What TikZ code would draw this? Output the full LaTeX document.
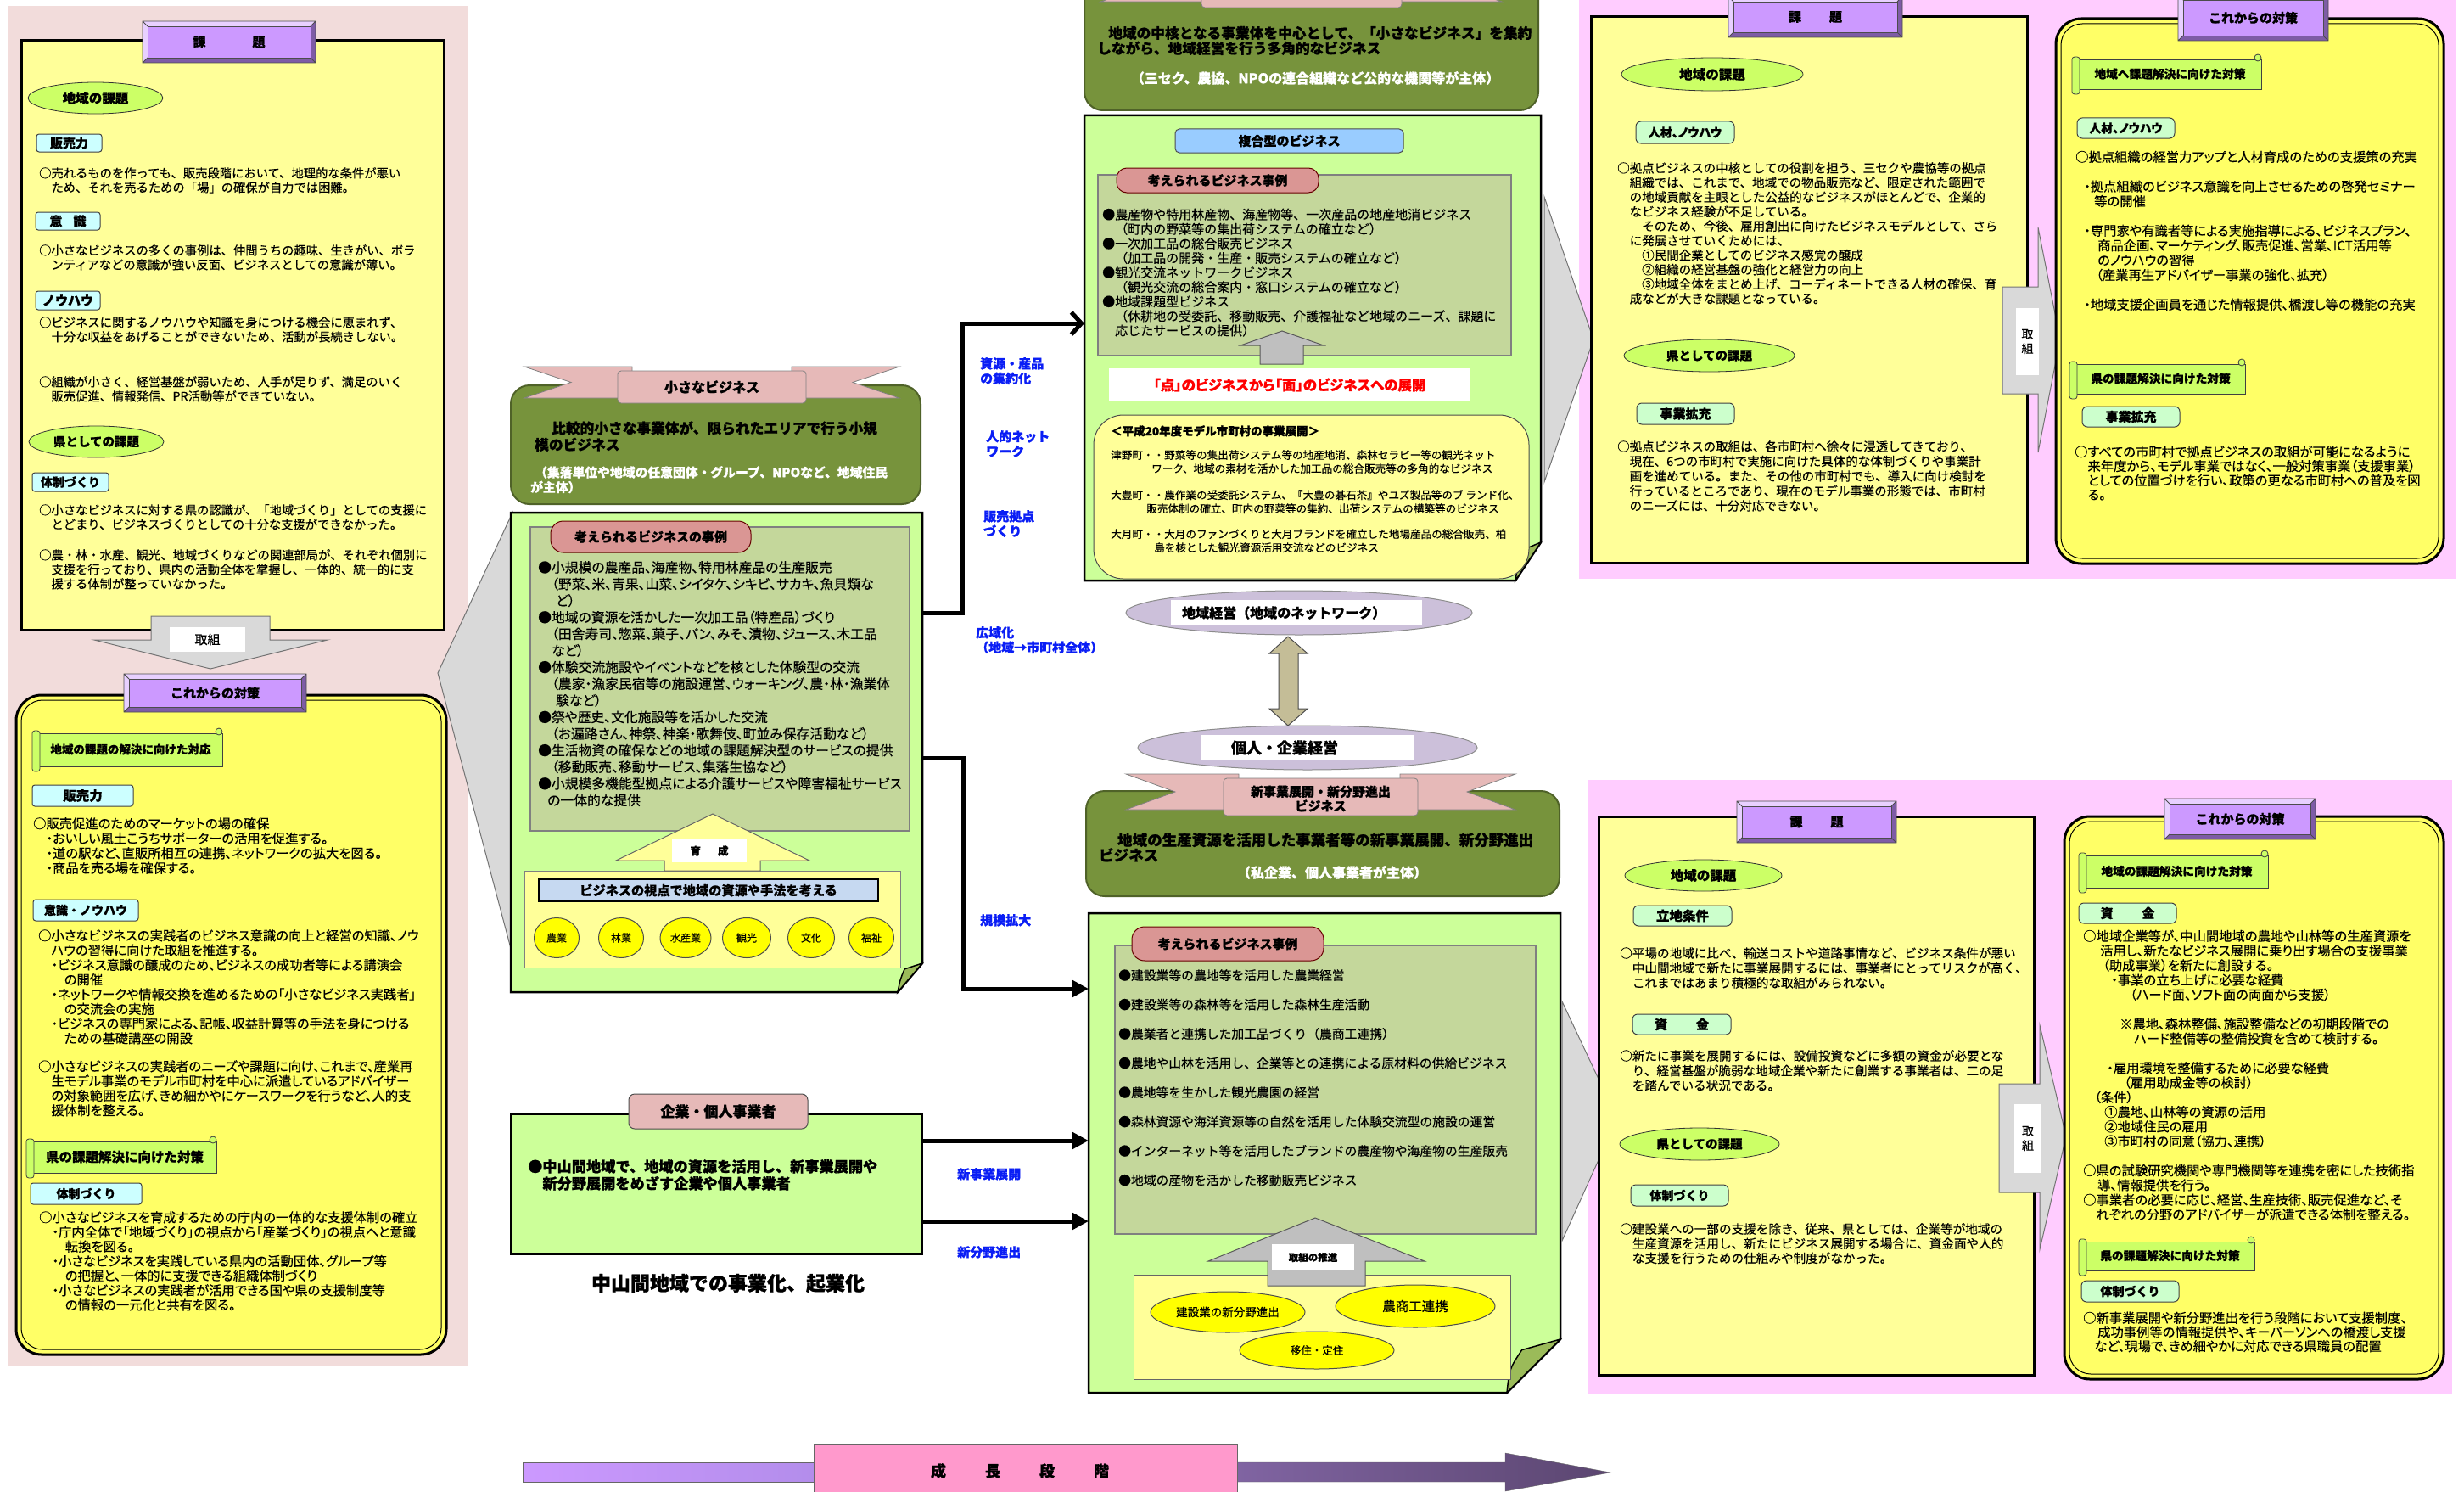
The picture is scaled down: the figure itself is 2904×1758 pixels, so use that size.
\documentclass[tikz,border=0pt]{standalone}
\usepackage{fontspec}
\setmainfont{Noto Sans CJK JP}[UprightFeatures={FakeBold=0.35},BoldFeatures={FakeBold=1.0}]
\newfontfamily\propfont{Noto Sans CJK JP}[RawFeature=+palt,UprightFeatures={FakeBold=0.35},BoldFeatures={FakeBold=1.0}]
\usetikzlibrary{shapes.geometric,arrows.meta}

\definecolor{leftbg}{HTML}{F2DCDB}
\definecolor{rightbg}{HTML}{FFCCFF}
\definecolor{paneltask}{HTML}{FFFF99}
\definecolor{panelplan}{HTML}{FFFF66}
\definecolor{tabmid}{HTML}{CC99FF}
\definecolor{tabhi}{HTML}{E8D0FF}
\definecolor{tabsh}{HTML}{7E5CA6}
\definecolor{ellgreen}{HTML}{CCFF66}
\definecolor{cyanlab}{HTML}{CCFFFF}
\definecolor{mintlab}{HTML}{CCFFCC}
\definecolor{olive}{HTML}{77933C}
\definecolor{olivedk}{HTML}{4F6228}
\definecolor{pagegreen}{HTML}{CCFF99}
\definecolor{folddk}{HTML}{9BBB59}
\definecolor{innergg}{HTML}{C4D79B}
\definecolor{tabred}{HTML}{DA9694}
\definecolor{ribpink}{HTML}{E6B9B8}
\definecolor{bluebar}{HTML}{C6D9F1}
\definecolor{fukugo}{HTML}{99CCFF}
\definecolor{lblue}{HTML}{0A1EF5}
\definecolor{purpell}{HTML}{CCC0DA}
\definecolor{tanarrow}{HTML}{C4BD97}
\definecolor{grayarrow}{HTML}{D9D9D9}
\definecolor{grayup}{HTML}{BFBFBF}
\definecolor{growA}{HTML}{CC99FF}
\definecolor{growB}{HTML}{B38DEB}
\definecolor{growC}{HTML}{8064A2}
\definecolor{growD}{HTML}{5B4670}
\definecolor{growbox}{HTML}{FF99CC}
\definecolor{circy}{HTML}{FFFF00}

\newcommand{\fsz}[2]{\fontsize{#1}{#2}\selectfont}

% bevelled title plate: name, x1, y1, x2, y2, text
\newcommand{\BevTab}[6]{%
  \fill[tabhi] (#2,#3) rectangle (#4,#5);
  \fill[tabsh] (#4,#3) -- (#4,#5) -- (#2,#5) -- ({#2+6},{#5-6}) -- ({#4-6},{#5-6}) -- ({#4-6},{#3+6}) -- cycle;
  \filldraw[fill=tabmid, draw=black!70, line width=0.8] ({#2+6},{#3+6}) rectangle ({#4-6},{#5-6});
  \draw[black!70, line width=0.8] (#2,#3) rectangle (#4,#5)
    (#2,#3) -- ({#2+6},{#3+6}) (#4,#3) -- ({#4-6},{#3+6})
    (#2,#5) -- ({#2+6},{#5-6}) (#4,#5) -- ({#4-6},{#5-6});
  \node[tabtext] (#1) at ({(#2+#4)/2},{(#3+#5)/2}) {#6};
}

% scroll banner: name, x1, y1, x2, y2, font size, text
\newcommand{\ScrollTag}[7]{%
  \filldraw[fill=ellgreen, draw=black!75, line width=0.8] ({#2+5},{#3+6}) rectangle (#4,{#5-3});
  \filldraw[fill=ellgreen, draw=black!75, line width=0.8, rounded corners=3] (#2,{#3+3}) rectangle ({#2+9},{#5+3});
  \filldraw[fill=ellgreen, draw=black!75, line width=0.8] ({#4-4},{#3+4}) circle (4);
  \node[inner sep=0, font=\bfseries\fsz{#6}{#6}] (#1) at ({(#2+#4)/2+4},{(#3+#5)/2+1}) {#7};
}

% page with a turned-up corner: name, x1, y1, x2, y2, fold width, fold height
\newcommand{\FoldPage}[7]{%
  \node[inner sep=0, outer sep=0, minimum width={#4-#2}, minimum height={#5-#3}] (#1) at ({(#2+#4)/2},{(#3+#5)/2}) {};
  \filldraw[fill=pagegreen, draw=black, line width=2.5] (#2,#3) -- (#4,#3) -- (#4,{#5-#7}) -- ({#4-#6},#5) -- (#2,#5) -- cycle;
  \filldraw[fill=folddk, draw=black, line width=1.5] ({#4-#6},#5) .. controls ({#4-#6+3},{#5-0.45*#7}) .. ({#4-0.72*#6},{#5-0.8*#7}) -- (#4,{#5-#7}) -- cycle;
}

\begin{document}
\begin{tikzpicture}[x=1pt,y=-1pt,
  txt/.style={anchor=north west, inner sep=0, align=left},
  tabtext/.style={inner sep=0, font=\bfseries\fsz{15}{15}},
  ellG/.style={ellipse, draw=black!80, fill=ellgreen, line width=0.8, inner sep=0, font=\bfseries\fsz{15.5}{15.5}},
  labL/.style={draw=black!75, fill=cyanlab, rounded corners=3, line width=1, inner sep=0, font=\bfseries\fsz{15}{15}},
  labR/.style={draw=black!75, fill=mintlab, rounded corners=6, line width=1, inner sep=0, font=\bfseries\fsz{15}{15}},
  conn/.style={line width=5, draw=black},
  linklab/.style={anchor=north west, inner sep=0, align=left, text=lblue, font=\bfseries\fsz{15}{17.5}},
  casetab/.style={draw=black!60!red, fill=tabred, rounded corners=15, line width=1, inner sep=0, font=\bfseries\fsz{15}{15}},
  garrow/.style={fill=grayarrow, draw=black!55, line width=1},
  upgray/.style={fill=grayup, draw=black!65, line width=1},
  ribbon/.style={fill=ribpink, draw=black!50, line width=0.8},
  greenbox/.style={fill=olive, draw=olivedk, line width=2, rounded corners=22},
  inbox/.style={fill=innergg, draw=black!50, line width=1.5},
  whitelab/.style={fill=white, inner sep=0},
  circ/.style={ellipse, fill=circy, draw=black!70, line width=1, inner sep=0}
]
\useasboundingbox (0,0) rectangle (2904,1758);
\fill[white] (0,0) rectangle (2904,1758);

% ---------------- backgrounds ----------------
\fill[leftbg] (9,7) rectangle (552,1610);
\fill[rightbg] (1861,0) rectangle (2895,682);
\fill[rightbg] (1871,919) rectangle (2890,1643);

% ---------------- left: issues ----------------
\filldraw[fill=paneltask, draw=black, line width=3] (25,48) rectangle (523,742);
\BevTab{ltab1}{168}{25}{372}{74}{課\hspace{55pt}題}
\node[ellG, minimum width=159, minimum height=37] (lell1) at (112.5,115.5) {地域の課題};
\node[labL, minimum width=77, minimum height=21] (llab1) at (81.5,168.5) {販売力};
\node[txt, font=\fsz{14.3}{17}] (ltx1) at (46,197) {○売れるものを作っても、販売段階において、地理的な条件が悪い\\　ため、それを売るための「場」の確保が自力では困難。};
\node[labL, minimum width=76, minimum height=21] (llab2) at (80,260.5) {意\hspace{13pt}識};
\node[txt, font=\fsz{14.3}{17}] (ltx2) at (46,288) {○小さなビジネスの多くの事例は、仲間うちの趣味、生きがい、ボラ\\　ンティアなどの意識が強い反面、ビジネスとしての意識が薄い。};
\node[labL, minimum width=76, minimum height=22] (llab3) at (80,354) {ノウハウ};
\node[txt, font=\fsz{14.3}{17}] (ltx3) at (46,373) {○ビジネスに関するノウハウや知識を身につける機会に恵まれず、\\　十分な収益をあげることができないため、活動が長続きしない。};
\node[txt, font=\fsz{14.3}{17}] (ltx4) at (46,443) {○組織が小さく、経営基盤が弱いため、人手が足りず、満足のいく\\　販売促進、情報発信、PR活動等ができていない。};
\node[ellG, minimum width=159, minimum height=37, font=\bfseries\fsz{14.5}{14.5}] (lell2) at (113.5,520.5) {県としての課題};
\node[labL, minimum width=90, minimum height=22, font=\bfseries\fsz{14}{14}] (llab4) at (83,568) {体制づくり};
\node[txt, font=\fsz{14.3}{17}] (ltx5) at (46,594) {○小さなビジネスに対する県の認識が、「地域づくり」としての支援に\\　とどまり、ビジネスづくりとしての十分な支援ができなかった。};
\node[txt, font=\fsz{14.3}{17}] (ltx6) at (46,647) {○農・林・水産、観光、地域づくりなどの関連部局が、それぞれ個別に\\　支援を行っており、県内の活動全体を掌握し、一体的、統一的に支\\　援する体制が整っていなかった。};

% arrow from issues down to measures
\filldraw[garrow] (178,726) -- (318,726) -- (318,754) -- (386,754) -- (248,788) -- (111,754) -- (178,754) -- cycle;
\node[whitelab, minimum width=89, minimum height=29, font=\fsz{15}{15}] (ltori) at (244.5,753.5) {取組};

% big chevron pointing back to the left column
\filldraw[garrow] (604,604) -- (516,793) -- (604,1125) -- cycle;

% ---------------- left: measures ----------------
\filldraw[fill=panelplan, draw=black, line width=3, rounded corners=30] (19,819) rectangle (526,1596);
\draw[black, line width=1, rounded corners=25] (25,825) rectangle (520,1590);
\BevTab{ltab2}{146}{794}{361}{839}{これからの対策}
\ScrollTag{lscr1}{38}{858}{262}{906}{13.5}{地域の課題の解決に向けた対応}
\node[labL, minimum width=119, minimum height=25, font=\bfseries\fsz{15.5}{15.5}] (llab5) at (97.5,937.5) {販売力};
\node[txt, font=\propfont\fsz{15.3}{17.5}] (ltx7) at (39,963) {○販売促進のためのマーケットの場の確保\\　・おいしい風土こうちサポーターの活用を促進する。\\　・道の駅など、直販所相互の連携、ネットワークの拡大を図る。\\　・商品を売る場を確保する。};
\node[labL, minimum width=124, minimum height=25, font=\bfseries\fsz{14}{14}] (llab6) at (101,1072.5) {意識・ノウハウ};
\node[txt, font=\propfont\fsz{15.3}{17.3}] (ltx8) at (45,1095) {○小さなビジネスの実践者のビジネス意識の向上と経営の知識、ノウ\\　ハウの習得に向けた取組を推進する。\\　・ビジネス意識の醸成のため、ビジネスの成功者等による講演会\\　　の開催\\　・ネットワークや情報交換を進めるための「小さなビジネス実践者」\\　　の交流会の実施\\　・ビジネスの専門家による、記帳、収益計算等の手法を身につける\\　　ための基礎講座の開設};
\node[txt, font=\propfont\fsz{15.3}{17.3}] (ltx9) at (45,1249) {○小さなビジネスの実践者のニーズや課題に向け、これまで、産業再\\　生モデル事業のモデル市町村を中心に派遣しているアドバイザー\\　の対象範囲を広げ、きめ細かやにケースワークを行うなど、人的支\\　援体制を整える。};
\ScrollTag{lscr2}{31}{1339}{255}{1385}{15.5}{県の課題解決に向けた対策}
\node[labL, minimum width=131, minimum height=25, font=\bfseries\fsz{14}{14}] (llab7) at (101.5,1406.5) {体制づくり};
\node[txt, font=\propfont\fsz{15.3}{17.2}] (ltx10) at (46,1427) {○小さなビジネスを育成するための庁内の一体的な支援体制の確立\\　・庁内全体で「地域づくり」の視点から「産業づくり」の視点へと意識\\　　転換を図る。\\　・小さなビジネスを実践している県内の活動団体、グループ等\\　　の把握と、一体的に支援できる組織体制づくり\\　・小さなビジネスの実践者が活用できる国や県の支援制度等\\　　の情報の一元化と共有を図る。};

% ---------------- centre: small business ----------------
\filldraw[greenbox] (602,454) rectangle (1085,594);
\filldraw[ribbon] (618,432) -- (745,432) -- (745,469) -- (618,469) -- (673,450.5) -- cycle;
\filldraw[ribbon] (1060,432) -- (933,432) -- (933,469) -- (1060,469) -- (1005,450.5) -- cycle;
\filldraw[ribbon, rounded corners=4] (728,437) rectangle (950,475);
\node[inner sep=0, font=\bfseries\fsz{16}{16}] (smalltitle) at (839,456) {小さなビジネス};
\node[txt, font=\bfseries\fsz{16.7}{19.5}] (smalldesc) at (630,496) {\hspace*{20pt}比較的小さな事業体が、限られたエリアで行う小規\\模のビジネス};
\node[txt, text=white, font=\bfseries\fsz{14.8}{17.5}] (smallsub) at (625,549) {\hspace*{5pt}（集落単位や地域の任意団体・グループ、NPOなど、地域住民\\が主体）};

\FoldPage{smallpage}{602}{604}{1087}{1169}{29}{34}
\filldraw[inbox] (625,621) rectangle (1072,979);
\node[casetab, minimum width=236, minimum height=37] (smallcase) at (767,632.5) {考えられるビジネスの事例};
\node[txt, font=\propfont\fsz{15.8}{19.6}] (smalllist) at (634,661) {●小規模の農産品、海産物、特用林産品の生産販売\\　（野菜、米、青果、山菜、シイタケ、シキビ、サカキ、魚貝類な\\\hspace*{21pt}ど）\\●地域の資源を活かした一次加工品（特産品）づくり\\　（田舎寿司、惣菜、菓子、パン、みそ、漬物、ジュース、木工品\\　など）\\●体験交流施設やイベントなどを核とした体験型の交流\\　（農家・漁家民宿等の施設運営、ウォーキング、農・林・漁業体\\\hspace*{21pt}験など）\\●祭や歴史、文化施設等を活かした交流\\　（お遍路さん、神祭、神楽・歌舞伎、町並み保存活動など）\\●生活物資の確保などの地域の課題解決型のサービスの提供\\　（移動販売、移動サービス、集落生協など）\\●小規模多機能型拠点による介護サービスや障害福祉サービス\\\hspace*{11pt}の一体的な提供};
\filldraw[fill=paneltask, draw=black!50, line width=1] (618,1026) rectangle (1061,1140);
\filldraw[fill=paneltask, draw=black!60, line width=1] (840,959) -- (954,1014) -- (896,1014) -- (896,1026) -- (783,1026) -- (783,1014) -- (726,1014) -- cycle;
\node[whitelab, minimum width=88, minimum height=27, font=\bfseries\fsz{12.5}{12.5}] (grow) at (836,1002.5) {育\hspace{20pt}成};
\node[fill=bluebar, draw=black, line width=2.5, inner sep=0, minimum width=400, minimum height=26, font=\bfseries\fsz{15.2}{15.2}] (viewbar) at (835,1049) {ビジネスの視点で地域の資源や手法を考える};
\node[circ, minimum width=53, minimum height=47, font=\fsz{12}{12}] (c1) at (656,1105) {農業};
\node[circ, minimum width=53, minimum height=47, font=\fsz{12}{12}] (c2) at (732,1105) {林業};
\node[circ, minimum width=60, minimum height=47, font=\fsz{12}{12}] (c3) at (808,1105) {水産業};
\node[circ, minimum width=57, minimum height=47, font=\fsz{12}{12}] (c4) at (880,1105) {観光};
\node[circ, minimum width=55, minimum height=47, font=\fsz{12}{12}] (c5) at (956,1105) {文化};
\node[circ, minimum width=53, minimum height=47, font=\fsz{12}{12}] (c6) at (1027,1105) {福祉};

% ---------------- centre: companies ----------------
\node[draw=black, fill=pagegreen, line width=3, inner sep=0, minimum width=484, minimum height=165] (corpbox) at (844,1394.5) {};
\node[fill=ribpink, draw=black!70, rounded corners=7, line width=1, inner sep=0, minimum width=211, minimum height=41, font=\bfseries\fsz{17}{17}] (corptab) at (846.5,1309.5) {企業・個人事業者};
\node[txt, font=\bfseries\fsz{17.2}{20}] (corptext) at (622,1366) {●中山間地域で、地域の資源を活用し、新事業展開や\\　新分野展開をめざす企業や個人事業者};
\node[inner sep=0, font=\bfseries\fsz{23}{23}] (caption) at (858,1512) {中山間地域での事業化、起業化};

% ---------------- centre right: hub business ----------------
\filldraw[greenbox] (1278,-40) rectangle (1813,130);
\filldraw[ribbon] (1297,-35) -- (1430,-35) -- (1430,2) -- (1297,2) -- (1352,-16) -- cycle;
\filldraw[ribbon] (1770,-35) -- (1640,-35) -- (1640,2) -- (1770,2) -- (1715,-16) -- cycle;
\filldraw[ribbon, rounded corners=4] (1416,-30) rectangle (1652,9);
\node[txt, font=\bfseries\fsz{16.7}{18}] (hubdesc) at (1293,30.5) {\hspace*{13pt}地域の中核となる事業体を中心として、「小さなビジネス」を集約\\しながら、地域経営を行う多角的なビジネス};
\node[inner sep=0, text=white, font=\bfseries\fsz{16}{16}] (hubsub) at (1550,92) {（三セク、農協、NPOの連合組織など公的な機関等が主体）};

\FoldPage{hubpage}{1278}{136}{1816}{684}{30}{45}
\node[fill=fukugo, draw=black!70, rounded corners=5, line width=1, inner sep=0, minimum width=269, minimum height=28, font=\bfseries\fsz{15}{15}] (fukugo) at (1519.5,166) {複合型のビジネス};
\filldraw[inbox] (1294,206) rectangle (1781,419);
\node[casetab, rounded corners=12, minimum width=238, minimum height=29] (hubcase) at (1435,212.5) {考えられるビジネス事例};
\node[txt, font=\fsz{15}{17.1}] (hublist) at (1299,245.5) {●農産物や特用林産物、海産物等、一次産品の地産地消ビジネス\\　（町内の野菜等の集出荷システムの確立など）\\●一次加工品の総合販売ビジネス\\　（加工品の開発・生産・販売システムの確立など）\\●観光交流ネットワークビジネス\\　（観光交流の総合案内・窓口システムの確立など）\\●地域課題型ビジネス\\　（休耕地の受委託、移動販売、介護福祉など地域のニーズ、課題に\\　応じたサービスの提供）};
\filldraw[upgray] (1511,390) -- (1560,407) -- (1536,407) -- (1536,429) -- (1485,429) -- (1485,407) -- (1462,407) -- cycle;
\node[whitelab, minimum width=426, minimum height=39, text=red, font=\propfont\bfseries\fsz{16.5}{16.5}] (dotface) at (1520,453.5) {「点」のビジネスから「面」のビジネスへの展開};
\filldraw[fill=paneltask, draw=black!70, line width=1, rounded corners=35] (1289,489) rectangle (1802,682);
\node[txt, font=\bfseries\fsz{13.5}{13.5}] (townhead) at (1309,501) {＜平成20年度モデル市町村の事業展開＞};
\node[txt, font=\fsz{12.6}{16}] (town1) at (1309,530) {津野町・・野菜等の集出荷システム等の地産地消、森林セラピー等の観光ネット\\\hspace*{48pt}ワーク、地域の素材を活かした加工品の総合販売等の多角的なビジネス};
\node[txt, font=\fsz{12.6}{16}] (town2) at (1309,577) {大豊町・・農作業の受委託システム、『大豊の碁石茶』やユズ製品等のブ ランド化、\\\hspace*{42pt}販売体制の確立、町内の野菜等の集約、出荷システムの構築等のビジネス};
\node[txt, font=\fsz{12.6}{16}] (town3) at (1309,623) {大月町・・大月のファンづくりと大月ブランドを確立した地場産品の総合販売、柏\\\hspace*{51pt}島を核とした観光資源活用交流などのビジネス};

% ---------------- centre: two management levels ----------------
\node[ellipse, fill=purpell, draw=black!45, line width=1, minimum width=408, minimum height=52, inner sep=0] (netell) at (1531,722) {};
\node[whitelab, minimum width=296, minimum height=30] (netbox) at (1528,722) {};
\node[inner sep=0, anchor=west, font=\bfseries\fsz{16}{16}] (nettext) at (1393,722) {地域経営（地域のネットワーク）};
\node[ellipse, fill=purpell, draw=black!45, line width=1, minimum width=400, minimum height=52, inner sep=0] (firmell) at (1541,881) {};
\node[whitelab, minimum width=250, minimum height=30] (firmbox) at (1541,881) {};
\node[inner sep=0, font=\bfseries\fsz{18}{18}] (firmtext) at (1514,881) {個人・企業経営};
\filldraw[fill=tanarrow, draw=black!70, line width=1] (1518,750) -- (1541,770) -- (1530,770) -- (1530,835) -- (1541,835) -- (1518,855) -- (1496,835) -- (1507,835) -- (1507,770) -- (1496,770) -- cycle;

% ---------------- centre right: new business ----------------
\filldraw[greenbox] (1280,932) rectangle (1838,1056);
\filldraw[ribbon] (1327,912) -- (1460,912) -- (1460,954) -- (1327,954) -- (1385,933) -- cycle;
\filldraw[ribbon] (1786,912) -- (1650,912) -- (1650,954) -- (1786,954) -- (1729,933) -- cycle;
\filldraw[ribbon, rounded corners=4] (1442,917) rectangle (1671,961);
\node[inner sep=0, align=center, font=\bfseries\fsz{15}{17}] (newtitle) at (1556.5,941) {新事業展開・新分野進出\\ビジネス};
\node[txt, font=\bfseries\fsz{17.5}{18}] (newdesc) at (1295,981) {\hspace*{22pt}地域の生産資源を活用した事業者等の新事業展開、新分野進出\\ビジネス};
\node[inner sep=0, text=white, font=\bfseries\fsz{16}{16}] (newsub) at (1570,1028) {（私企業、個人事業者が主体）};

\FoldPage{lowpage}{1283}{1076}{1839}{1641}{63}{63}
\filldraw[inbox] (1314,1114) rectangle (1810,1454);
\node[casetab, minimum width=226, minimum height=40] (lowcase) at (1447,1112) {考えられるビジネス事例};
\node[txt, font=\fsz{14.8}{34.5}] (lowlist) at (1318,1142) {●建設業等の農地等を活用した農業経営\\●建設業等の森林等を活用した森林生産活動\\●農業者と連携した加工品づくり（農商工連携）\\●農地や山林を活用し、企業等との連携による原材料の供給ビジネス\\●農地等を生かした観光農園の経営\\●森林資源や海洋資源等の自然を活用した体験交流型の施設の運営\\●インターネット等を活用したブランドの農産物や海産物の生産販売\\●地域の産物を活かした移動販売ビジネス};
\filldraw[fill=paneltask, draw=black!60, line width=1] (1336,1502) rectangle (1780,1625);
\filldraw[upgray] (1550,1435) -- (1679,1486) -- (1609,1486) -- (1609,1515) -- (1494,1515) -- (1494,1486) -- (1424,1486) -- cycle;
\node[whitelab, minimum width=97, minimum height=31, font=\bfseries\fsz{11.5}{11.5}] (push) at (1547.5,1481.5) {取組の推進};
\node[circ, minimum width=182, minimum height=48, font=\fsz{13.5}{13.5}] (e1) at (1447,1546) {建設業の新分野進出};
\node[circ, minimum width=188, minimum height=50, font=\fsz{15.5}{15.5}] (e2) at (1668,1539) {農商工連携};
\node[circ, minimum width=182, minimum height=44, font=\fsz{12.5}{12.5}] (e3) at (1552,1591) {移住・定住};

% ---------------- connectors ----------------
\draw[conn, -{Straight Barb[length=12pt,width=26pt]}] (smallpage.east |- 0,722) -- (1134,722) -- (1134,381) -- (hubpage.west |- 0,381);
\draw[conn, -{Triangle[length=20pt,width=20pt]}] (smallpage.east |- 0,893) -- (1135,893) -- (1135,1165) -- (lowpage.west |- 0,1165);
\draw[conn, -{Triangle[length=20pt,width=20pt]}] (corpbox.east |- 0,1344) -- (lowpage.west |- 0,1344);
\draw[conn, -{Triangle[length=20pt,width=20pt]}] (corpbox.east |- 0,1439) -- (lowpage.west |- 0,1439);
\node[linklab] (lk1) at (1155,421) {資源・産品\\の集約化};
\node[linklab] (lk2) at (1162,507) {人的ネット\\ワーク};
\node[linklab] (lk3) at (1159,601) {販売拠点\\づくり};
\node[linklab] (lk4) at (1150,738) {広域化\\（地域→市町村全体）};
\node[linklab] (lk5) at (1155,1077) {規模拡大};
\node[linklab] (lk6) at (1128,1376) {新事業展開};
\node[linklab] (lk7) at (1128,1468) {新分野進出};

% chevrons into the right-hand columns
\filldraw[garrow] (1820,232) -- (1878,400) -- (1820,568) -- cycle;
\filldraw[garrow] (1841,1180) -- (1906,1318) -- (1841,1462) -- cycle;

% ---------------- right top: issues ----------------
\filldraw[fill=paneltask, draw=black, line width=3] (1875,20) rectangle (2389,663);
\BevTab{rtab1}{2037}{-4}{2242}{44}{課\hspace{33pt}題}
\node[ellG, minimum width=214, minimum height=39] (rell1) at (2018,87.5) {地域の課題};
\node[labR, minimum width=116, minimum height=26, font=\propfont\bfseries\fsz{14}{14}] (rlab1) at (1986,156) {人材、ノウハウ};
\node[txt, font=\fsz{14.5}{17.1}] (rtx1) at (1906,191) {○拠点ビジネスの中核としての役割を担う、三セクや農協等の拠点\\　組織では、これまで、地域での物品販売など、限定された範囲で\\　の地域貢献を主眼とした公益的なビジネスがほとんどで、企業的\\　なビジネス経験が不足している。\\　　そのため、今後、雇用創出に向けたビジネスモデルとして、さら\\　に発展させていくためには、\\　　①民間企業としてのビジネス感覚の醸成\\　　②組織の経営基盤の強化と経営力の向上\\　　③地域全体をまとめ上げ、コーディネートできる人材の確保、育\\　成などが大きな課題となっている。};
\node[ellG, minimum width=201, minimum height=38, font=\bfseries\fsz{14.5}{14.5}] (rell2) at (2014.5,419) {県としての課題};
\node[labR, minimum width=115, minimum height=25] (rlab2) at (1986.5,487.5) {事業拡充};
\node[txt, font=\fsz{14.5}{17.5}] (rtx2) at (1906,519) {○拠点ビジネスの取組は、各市町村へ徐々に浸透してきており、\\　現在、6つの市町村で実施に向けた具体的な体制づくりや事業計\\　画を進めている。また、その他の市町村でも、導入に向け検討を\\　行っているところであり、現在のモデル事業の形態では、市町村\\　のニーズには、十分対応できない。};

\filldraw[garrow] (2360,338) -- (2402,338) -- (2402,268) -- (2428,400) -- (2402,533) -- (2402,464) -- (2360,464) -- cycle;
\node[whitelab, minimum width=27, minimum height=79, align=center, font=\fsz{14}{17}] (rtori1) at (2389.5,402.5) {取\\組};

% ---------------- right top: measures ----------------
\filldraw[fill=panelplan, draw=black, line width=3, rounded corners=30] (2423,22) rectangle (2880,664);
\draw[black, line width=1, rounded corners=25] (2429,28) rectangle (2874,658);
\BevTab{rtab2}{2567}{-6}{2744}{48}{これからの対策}
\ScrollTag{rscr1}{2442}{64}{2665}{108}{13.7}{地域へ課題解決に向けた対策}
\node[labR, minimum width=115, minimum height=24, font=\propfont\bfseries\fsz{14}{14}] (rlab3) at (2505.5,151) {人材、ノウハウ};
\node[txt, font=\propfont\fsz{15.3}{17.4}] (rtx3) at (2446,177.5) {○拠点組織の経営力アップと人材育成のための支援策の充実\\[17.4pt]\hspace*{10pt}・拠点組織のビジネス意識を向上させるための啓発セミナー\\\hspace*{22pt}等の開催\\[17.4pt]\hspace*{10pt}・専門家や有識者等による実施指導による、ビジネスプラン、\\\hspace*{26pt}商品企画、マーケティング、販売促進、営業、ICT活用等\\\hspace*{26pt}のノウハウの習得\\\hspace*{24pt}（産業再生アドバイザー事業の強化、拡充）\\[17.4pt]\hspace*{10pt}・地域支援企画員を通じた情報提供、橋渡し等の機能の充実};
\ScrollTag{rscr2}{2439}{423}{2646}{467}{13.7}{県の課題解決に向けた対策}
\node[labR, minimum width=115, minimum height=24] (rlab4) at (2511.5,491) {事業拡充};
\node[txt, font=\propfont\fsz{15.3}{16.8}] (rtx4) at (2445,525) {○すべての市町村で拠点ビジネスの取組が可能になるように\\　来年度から、モデル事業ではなく、一般対策事業（支援事業）\\　としての位置づけを行い、政策の更なる市町村への普及を図\\　る。};

% ---------------- right bottom: issues ----------------
\filldraw[fill=paneltask, draw=black, line width=3] (1884,962) rectangle (2397,1620);
\BevTab{rtab3}{2047}{944}{2235}{993}{課\hspace{33pt}題}
\node[ellG, minimum width=185, minimum height=37] (rell3) at (2007.5,1031.5) {地域の課題};
\node[labR, minimum width=116, minimum height=24, font=\bfseries\fsz{15.5}{15.5}] (rlab5) at (1983,1079) {立地条件};
\node[txt, font=\fsz{14.6}{17.5}] (rtx5) at (1909,1116) {○平場の地域に比べ、輸送コストや道路事情など、ビジネス条件が悪い\\　中山間地域で新たに事業展開するには、事業者にとってリスクが高く、\\　これまではあまり積極的な取組がみられない。};
\node[labR, minimum width=116, minimum height=24] (rlab6) at (1982,1207) {資\hspace{34pt}金};
\node[txt, font=\fsz{14.6}{17.5}] (rtx6) at (1909,1237) {○新たに事業を展開するには、設備投資などに多額の資金が必要とな\\　り、経営基盤が脆弱な地域企業や新たに創業する事業者は、二の足\\　を踏んでいる状況である。};
\node[ellG, minimum width=188, minimum height=38, font=\bfseries\fsz{14.5}{14.5}] (rell4) at (2003,1348) {県としての課題};
\node[labR, minimum width=115, minimum height=25, font=\bfseries\fsz{14}{14}] (rlab7) at (1979.5,1408.5) {体制づくり};
\node[txt, font=\fsz{14.6}{17.2}] (rtx7) at (1909,1441) {○建設業への一部の支援を除き、従来、県としては、企業等が地域の\\　生産資源を活用し、新たにビジネス展開する場合に、資金面や人的\\　な支援を行うための仕組みや制度がなかった。};

\filldraw[garrow] (2356,1277) -- (2404,1277) -- (2404,1208) -- (2435,1339) -- (2404,1472) -- (2404,1405) -- (2356,1405) -- cycle;
\node[whitelab, minimum width=32, minimum height=81, align=center, font=\fsz{14}{17}] (rtori2) at (2390,1341.5) {取\\組};

% ---------------- right bottom: measures ----------------
\filldraw[fill=panelplan, draw=black, line width=3, rounded corners=30] (2433,962) rectangle (2880,1625);
\draw[black, line width=1, rounded corners=25] (2439,968) rectangle (2874,1619);
\BevTab{rtab4}{2551}{941}{2729}{989}{これからの対策}
\ScrollTag{rscr3}{2450}{1002}{2673}{1049}{13.7}{地域の課題解決に向けた対策}
\node[labR, minimum width=115, minimum height=24] (rlab8) at (2507.5,1076) {資\hspace{34pt}金};
\node[txt, font=\propfont\fsz{15.3}{17.27}] (rtx8) at (2455,1095.5) {○地域企業等が、中山間地域の農地や山林等の生産資源を\\\hspace*{20pt}活用し、新たなビジネス展開に乗り出す場合の支援事業\\\hspace*{23pt}（助成事業）を新たに創設する。\\\hspace*{33pt}・事業の立ち上げに必要な経費\\\hspace*{55pt}（ハード面、ソフト面の両面から支援）\\[17.27pt]\hspace*{43pt}※農地、森林整備、施設整備などの初期段階での\\\hspace*{60pt}ハード整備等の整備投資を含めて検討する。\\[17.27pt]\hspace*{28pt}・雇用環境を整備するために必要な経費\\\hspace*{48pt}（雇用助成金等の検討）\\\hspace*{13pt}（条件）\\\hspace*{25pt}①農地、山林等の資源の活用\\\hspace*{25pt}②地域住民の雇用\\\hspace*{25pt}③市町村の同意（協力、連携）\\[17.27pt]○県の試験研究機関や専門機関等を連携を密にした技術指\\\hspace*{17pt}導、情報提供を行う。\\○事業者の必要に応じ、経営、生産技術、販売促進など、そ\\\hspace*{15pt}れぞれの分野のアドバイザーが派遣できる体制を整える。};
\ScrollTag{rscr4}{2450}{1457}{2657}{1500}{13.7}{県の課題解決に向けた対策}
\node[labR, minimum width=115, minimum height=25, font=\bfseries\fsz{14}{14}] (rlab9) at (2510.5,1521.5) {体制づくり};
\node[txt, font=\propfont\fsz{15.3}{16.7}] (rtx9) at (2455,1545.5) {○新事業展開や新分野進出を行う段階において支援制度、\\\hspace*{17pt}成功事例等の情報提供や、キーパーソンへの橋渡し支援\\\hspace*{13pt}など、現場で、きめ細やかに対応できる県職員の配置};

% ---------------- growth stage arrow ----------------
\shade[left color=growA, right color=growB] (616,1723) rectangle (959,1746);
\shade[left color=growC, right color=growD] (1458,1723) -- (1774,1723) -- (1774,1712) -- (1898,1735) -- (1774,1757) -- (1774,1746) -- (1458,1746) -- cycle;
\draw[black!60] (616,1723) rectangle (959,1746);
\draw[black!60] (1458,1723) -- (1774,1723) -- (1774,1712) -- (1898,1735) -- (1774,1757) -- (1774,1746) -- (1458,1746);
\node[fill=growbox, draw=black!60, line width=1, inner sep=0, minimum width=499, minimum height=70, anchor=north west] (stagebox) at (959,1702) {};
\node[inner sep=0, font=\bfseries\fsz{18}{18}] (stagetext) at (1202,1733) {成\hspace{46pt}長\hspace{46pt}段\hspace{46pt}階};
\end{tikzpicture}
\end{document}
